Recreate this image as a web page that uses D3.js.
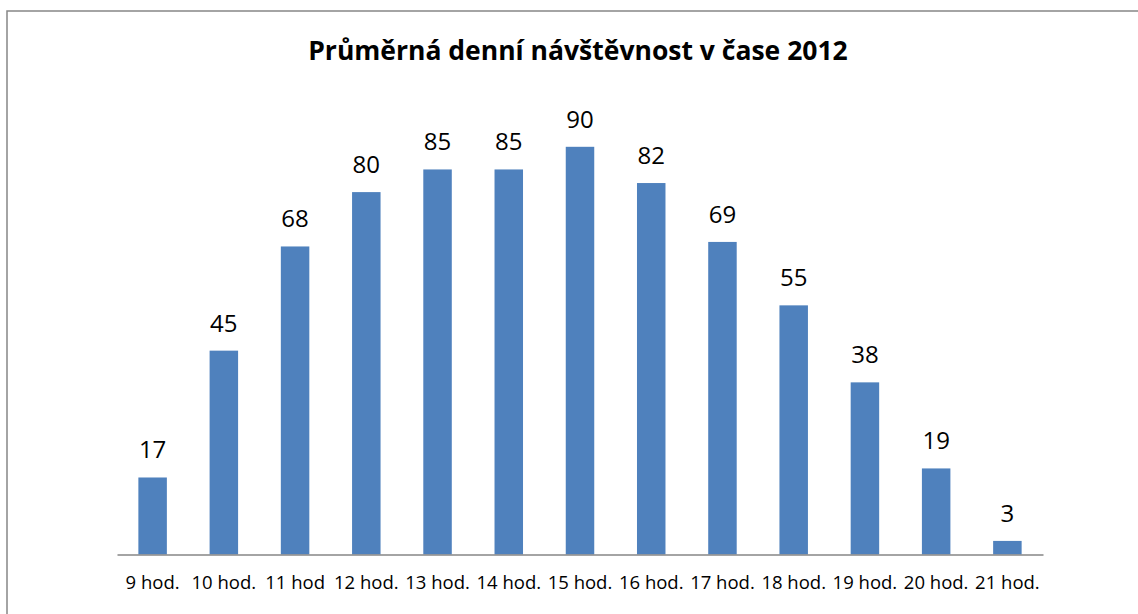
<!DOCTYPE html>
<html>
<head>
<meta charset="utf-8">
<script src="https://cdn.jsdelivr.net/npm/d3@7"></script>
<style>
  body { margin: 0; background: #fff; }
  svg { display: block; }
</style>
</head>
<body>
<svg id="chart" width="1138" height="614"></svg>
<script>
const titleText = "Průměrná denní návštěvnost v čase 2012";
const categories = ["9 hod.", "10 hod.", "11 hod", "12 hod.", "13 hod.", "14 hod.", "15 hod.",
    "16 hod.", "17 hod.", "18 hod.", "19 hod.", "20 hod.", "21 hod."];
const visitors = [17, 45, 68, 80, 85, 85, 90, 82, 69, 55, 38, 19, 3];

const svg = d3.select("#chart");
const FONT = "'Open Sans', 'Noto Sans', sans-serif";
const BAR_COLOR = "#4f81bd";

const plot = { left: 117, right: 1043, top: 101.5, bottom: 554.5 };

// chart frame (runs off the right and bottom of the picture)
svg.append("rect")
    .attr("x", 7)
    .attr("y", 11)
    .attr("width", 1300)
    .attr("height", 800)
    .attr("fill", "none")
    .attr("stroke", "#878787")
    .attr("stroke-width", 1.5);

svg.append("text")
    .attr("x", 578)
    .attr("y", 60)
    .attr("text-anchor", "middle")
    .attr("font-family", FONT)
    .attr("font-weight", "bold")
    .attr("font-size", 26.5)
    .attr("fill", "#000")
    .text(titleText);

const x = d3.scaleBand()
    .domain(categories)
    .range([plot.left, plot.right])
    .paddingInner(0.6)
    .paddingOuter(0.3);

const y = d3.scaleLinear()
    .domain([0, 100])
    .range([plot.bottom, plot.top]);

const data = categories.map((c, i) => ({ cat: c, value: visitors[i] }));

svg.append("g")
    .selectAll("rect")
    .data(data)
    .join("rect")
    .attr("x", d => x(d.cat))
    .attr("y", d => y(d.value))
    .attr("width", x.bandwidth())
    .attr("height", d => y(0) - y(d.value))
    .attr("fill", BAR_COLOR);

svg.append("g")
    .selectAll("text")
    .data(data)
    .join("text")
    .attr("x", d => x(d.cat) + x.bandwidth() / 2)
    .attr("y", d => y(d.value) - 19)
    .attr("text-anchor", "middle")
    .attr("font-family", FONT)
    .attr("font-size", 24)
    .attr("fill", "#000")
    .text(d => d.value);

const xAxis = svg.append("g")
    .attr("transform", `translate(0,${plot.bottom})`)
    .call(d3.axisBottom(x).tickSize(0).tickPadding(21));

xAxis.select(".domain")
    .attr("stroke", "#868686")
    .attr("stroke-width", 1.5);

xAxis.selectAll("text")
    .attr("font-family", FONT)
    .attr("font-size", 18.5)
    .attr("fill", "#000");
</script>
</body>
</html>
